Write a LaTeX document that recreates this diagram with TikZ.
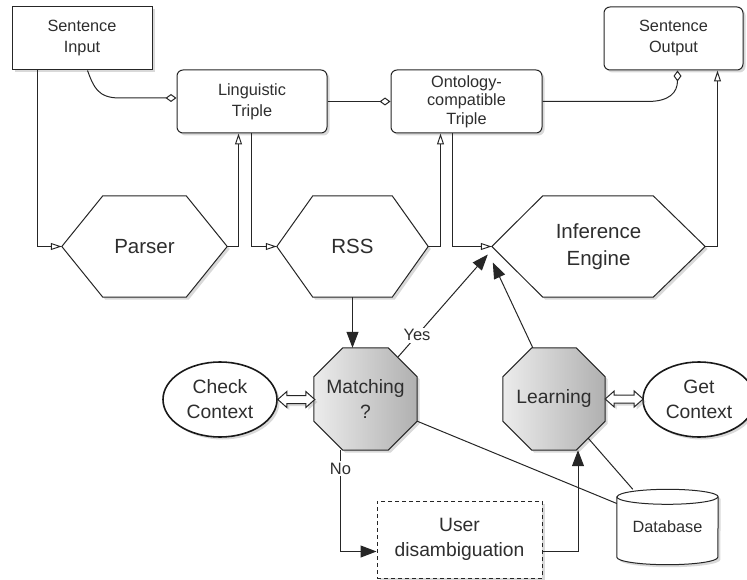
\documentclass[tikz,border=0pt]{standalone}
\usepackage{fontspec}
\setmainfont{Liberation Sans}
\usetikzlibrary{arrows.meta,shapes.geometric,shadows,backgrounds,calc}
\begin{document}
\begin{tikzpicture}[x=1pt,y=-1pt,
  every node/.style={text=black!82},
  ln/.style={draw=black!85, line width=1pt},
  shad/.style={drop shadow={opacity=0.3, shadow xshift=2.5pt, shadow yshift=-2.5pt}},
  sq/.style={ln, shad, fill=white, rectangle, minimum width=140pt, minimum height=63pt, inner sep=0pt, align=center, font=\fontsize{16.3}{21}\selectfont},
  rd/.style={sq, rounded corners=6pt},
  geo/.style={rectangle, inner sep=0pt, align=center},
  hexfont/.style={font=\fontsize{20.5}{27}\selectfont},
  octfont/.style={font=\fontsize{19.3}{25}\selectfont},
  shapeline/.style={ln, shad, fill=white},
  octshade/.style={ln, shad, left color=gray!15, right color=gray!62},
  oval/.style={ellipse, draw=black!90, line width=1.6pt, fill=white, shad, minimum width=114pt, minimum height=75pt, inner sep=0pt, align=center, octfont},
  opentip/.style={ln, -{Triangle[open, length=11pt, width=7pt]}},
  diamtip/.style={ln, -{Diamond[open, length=11pt, width=8pt]}},
  filltip/.style={ln, -{Triangle[length=16pt, width=12pt]}},
  plain/.style={ln},
  fat/.style={draw=black!85, line width=1pt, fill=white, shad},
  lbl/.style={fill=white, inner sep=1.5pt, font=\fontsize{16.5}{20}\selectfont},
]
\useasboundingbox (0,0) rectangle (747,580);

% boxes
\node[sq] (si) at (82,38.5) {Sentence\\Input};
\node[rd, minimum width=150pt] (lt) at (252,101.5) {Linguistic\\Triple};
\node[rd, minimum width=151pt, font=\fontsize{16.3}{18.5}\selectfont] (ot) at (466.5,101.5) {Ontology-\\compatible\\Triple};
\node[rd, minimum width=139pt] (so) at (673.5,38.5) {Sentence\\Output};

% hexagons
\node[geo, hexfont, minimum width=165pt, minimum height=101pt] (pa) at (144.5,246.5) {Parser};
\node[geo, hexfont, minimum width=151pt, minimum height=101pt] (rss) at (352.5,246.5) {RSS};
\node[geo, hexfont, minimum width=213pt, minimum height=101pt] (ie) at (598.5,246.5) {Inference\\Engine};

% octagons
\node[geo, octfont, minimum width=103pt, minimum height=102pt] (mt) at (365.5,399) {Matching\\?};
\node[geo, octfont, minimum width=102pt, minimum height=102pt] (le) at (554,399) {Learning};

% ellipses
\node[oval] (cc) at (220,399.5) {Check\\Context};
\node[oval, minimum width=112pt] (gc) at (699,399.5) {Get\\Context};

% database
\node[geo, font=\fontsize{16.3}{20}\selectfont, minimum width=101pt, minimum height=75pt] (db) at (667.5,527) {Database};

% user disambiguation
\node[rectangle, draw=black!85, line width=1pt, dash pattern=on 4pt off 3pt, fill=white, shad, minimum width=165pt, minimum height=77pt, inner sep=0pt, align=center, octfont] (ud) at (459.5,539.5) {User\\disambiguation};

\begin{scope}[on background layer]
\draw[shapeline] (pa.west) -- ($(pa.north west)+(41,0)$) -- ($(pa.north east)+(-41,0)$) -- (pa.east) -- ($(pa.south east)+(-41,0)$) -- ($(pa.south west)+(41,0)$) -- cycle;
\draw[shapeline] (rss.west) -- ($(rss.north west)+(36,0)$) -- ($(rss.north east)+(-36,0)$) -- (rss.east) -- ($(rss.south east)+(-36,0)$) -- ($(rss.south west)+(36,0)$) -- cycle;
\draw[shapeline] (ie.west) -- ($(ie.north west)+(51,0)$) -- ($(ie.north east)+(-52,0)$) -- (ie.east) -- ($(ie.south east)+(-52,0)$) -- ($(ie.south west)+(51,0)$) -- cycle;
\path[octshade] ($(mt.north west)+(29,0)$) -- ($(mt.north east)+(-29,0)$) -- ($(mt.north east)+(0,29)$) -- ($(mt.south east)+(0,-29)$) -- ($(mt.south east)+(-29,0)$) -- ($(mt.south west)+(29,0)$) -- ($(mt.south west)+(0,-29)$) -- ($(mt.north west)+(0,29)$) -- cycle;
\path[octshade] ($(le.north west)+(29,0)$) -- ($(le.north east)+(-29,0)$) -- ($(le.north east)+(0,29)$) -- ($(le.south east)+(0,-29)$) -- ($(le.south east)+(-29,0)$) -- ($(le.south west)+(29,0)$) -- ($(le.south west)+(0,-29)$) -- ($(le.north west)+(0,29)$) -- cycle;
\draw[shapeline] ($(db.north west)+(0,7.5)$) -- ($(db.south west)+(0,-7.5)$) arc[start angle=180, end angle=360, x radius=50.5pt, y radius=7.5pt] -- ($(db.north east)+(0,7.5)$) arc[start angle=0, end angle=180, x radius=50.5pt, y radius=7.5pt] -- cycle;
\draw[ln] ($(db.north west)+(0,7.5)$) arc[start angle=180, end angle=360, x radius=50.5pt, y radius=7.5pt];
\end{scope}

% double arrows
\draw[fat] (cc.east) -- ++(9,-8) -- ++(0,4) -- ++(19,0) -- ++(0,-4) -- ++(9,8) -- ++(-9,8) -- ++(0,-4) -- ++(-19,0) -- ++(0,4) -- cycle;
\draw[fat] (le.east) -- ++(9,-8) -- ++(0,4) -- ++(20,0) -- ++(0,-4) -- ++(9,8) -- ++(-9,8) -- ++(0,-4) -- ++(-20,0) -- ++(0,4) -- cycle;

% top connectors
\draw[diamtip] ($(si.south west)+(76,0)$) .. controls +(6,16) and +(-22,0) .. ($(lt.west)+(-57,-3.5)$) -- ($(lt.west)+(0,-3.5)$);
\draw[diamtip] (lt.east) -- (ot.west);
\draw[diamtip] (ot.east) -- ++(105,0) .. controls +(22,0) and +(0,22) .. ($(so.south)+(4,0)$);

\draw[opentip] ($(si.south west)+(26,0)$) |- (pa.west);
\draw[opentip] (pa.east) -| ($(lt.south west)+(62,0)$);
\draw[opentip] ($(lt.south west)+(75,0)$) |- (rss.west);
\draw[opentip] (rss.east) -| ($(ot.south west)+(50,0)$);
\draw[opentip] ($(ot.south west)+(62,0)$) |- (ie.west);
\draw[opentip] (ie.east) -| ($(so.south west)+(114,0)$);

% lower connectors
\draw[filltip] (rss.south) -- (rss.south |- mt.north);
\draw[filltip] ($(mt.north east)+(-19,9)$) -- node[lbl, pos=0.21] (yes) {Yes} ($(ie.west)+(-4,8)$);
\draw[filltip] ($(le.north west)+(30,0)$) -- ($(ie.west)+(1,16)$);
\draw[plain] ($(mt.south east)+(0,-29)$) -- ($(db.west)+(0,-23.5)$);
\draw[plain] ($(le.south east)+(-17,-12)$) -- ($(db.north west)+(16,0)$);
\draw[filltip] ($(mt.south)+(-25,0)$) |- node[lbl, pos=0.09] (no) {No} ($(ud.west)+(0,12)$);
\draw[filltip] ($(ud.east)+(0,12)$) -| ($(le.south)+(24,0)$);
\end{tikzpicture}
\end{document}
